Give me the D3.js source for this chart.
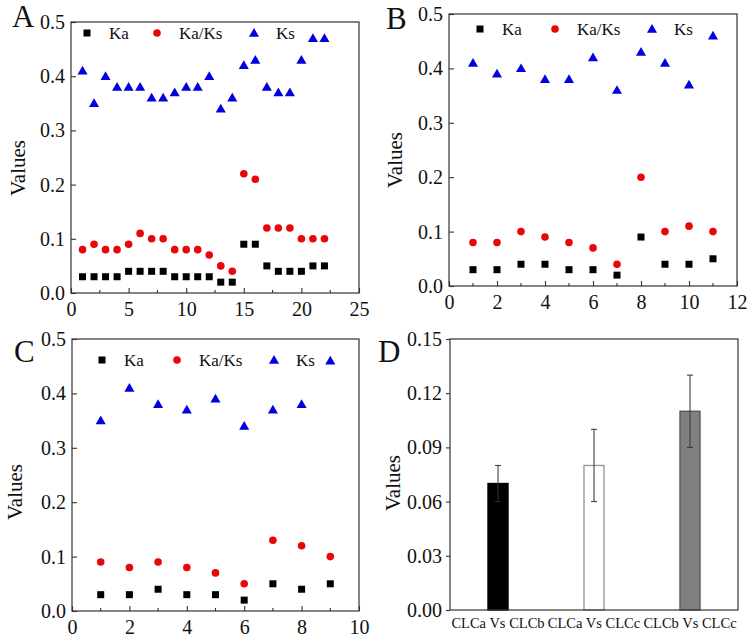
<!DOCTYPE html>
<html><head><meta charset="utf-8">
<script src="https://cdn.jsdelivr.net/npm/d3@7"></script>
<style>
html,body{margin:0;padding:0;background:#fff;}
svg{display:block;}
svg text{font-family:"Liberation Serif","Times New Roman","DejaVu Serif",serif !important;}
</style></head>
<body>
<svg id="chart" width="750" height="637"></svg>
<script>
// ---------- data ----------
const seriesNames = ["Ka", "Ka/Ks", "Ks"];

const kaA   = [0.03,0.03,0.03,0.03,0.04,0.04,0.04,0.04,0.03,0.03,0.03,0.03,0.02,0.02,0.09,0.09,0.05,0.04,0.04,0.04,0.05,0.05];
const kakaA = [0.08,0.09,0.08,0.08,0.09,0.11,0.10,0.10,0.08,0.08,0.08,0.07,0.05,0.04,0.22,0.21,0.12,0.12,0.12,0.10,0.10,0.10];
const ksA   = [0.41,0.35,0.40,0.38,0.38,0.38,0.36,0.36,0.37,0.38,0.38,0.40,0.34,0.36,0.42,0.43,0.38,0.37,0.37,0.43,0.47,0.47];

const kaB   = [0.03,0.03,0.04,0.04,0.03,0.03,0.02,0.09,0.04,0.04,0.05];
const kakaB = [0.08,0.08,0.10,0.09,0.08,0.07,0.04,0.20,0.10,0.11,0.10];
const ksB   = [0.41,0.39,0.40,0.38,0.38,0.42,0.36,0.43,0.41,0.37,0.46];

const kaC   = [0.03,0.03,0.04,0.03,0.03,0.02,0.05,0.04,0.05];
const kakaC = [0.09,0.08,0.09,0.08,0.07,0.05,0.13,0.12,0.10];
const ksC   = [0.35,0.41,0.38,0.37,0.39,0.34,0.37,0.38,0.46];

const yTicksABC = [0.0,0.1,0.2,0.3,0.4,0.5];
const xTicksA = [0,5,10,15,20,25];
const xTicksB = [0,2,4,6,8,10,12];
const xTicksC = [0,2,4,6,8,10];

const compCategories = ["CLCa Vs CLCb", "CLCa Vs CLCc", "CLCb Vs CLCc"];
const compValues = [0.07, 0.08, 0.11];
const compErrors = [0.01, 0.02, 0.02];
const yTicksD = [0.00,0.03,0.06,0.09,0.12,0.15];

// ---------- styles ----------
const svg = d3.select("#chart");
const FRAME = "#333";
const TICKFONT = 20;
const colors = {Ka:"#000000", "Ka/Ks":"#e8060a", Ks:"#0000e0"};
const barFill = ["#000000", "#ffffff", "#808080"];
const barStroke = ["#000000", "#9a9a9a", "#5a5a5a"];

function drawMarker(g, type, x, y) {
  if (type === "Ka") {
    g.append("rect").attr("x", x-3.5).attr("y", y-3.5).attr("width", 7).attr("height", 7).attr("fill", colors.Ka);
  } else if (type === "Ka/Ks") {
    g.append("circle").attr("cx", x).attr("cy", y).attr("r", 3.8).attr("fill", colors["Ka/Ks"]);
  } else {
    g.append("path").attr("d", d3.symbol().type(d3.symbolTriangle).size(44)())
      .attr("transform", `translate(${x},${y+0.8})`).attr("fill", colors.Ks);
  }
}

function scatterPanel(p) {
  const g = svg.append("g");
  const x = d3.scaleLinear().domain([0, p.xmax]).range([p.left, p.right]);
  const y = d3.scaleLinear().domain([0, 0.5]).range([p.bottom, p.top]);

  g.append("rect").attr("x", p.left).attr("y", p.top)
    .attr("width", p.right-p.left).attr("height", p.bottom-p.top)
    .attr("fill", "none").attr("stroke", FRAME).attr("stroke-width", 1.2);

  const ya = g.append("g").attr("transform", `translate(${p.left},0)`)
    .call(d3.axisLeft(y).tickValues(yTicksABC).tickFormat(d3.format(".1f")).tickSizeInner(-5).tickSizeOuter(0).tickPadding(6));
  ya.select(".domain").remove();
  ya.selectAll("line").attr("stroke", FRAME).attr("stroke-width", 1.1);
  ya.selectAll("text").attr("font-size", TICKFONT).attr("fill", "#111");

  const xa = g.append("g").attr("transform", `translate(0,${p.bottom})`)
    .call(d3.axisBottom(x).tickValues(p.xticks).tickFormat(d3.format("d")).tickSizeInner(-5).tickSizeOuter(0).tickPadding(9));
  xa.select(".domain").remove();
  xa.selectAll("line").attr("stroke", FRAME).attr("stroke-width", 1.1);
  xa.selectAll("text").attr("font-size", TICKFONT).attr("fill", "#111");
  const minor = [];
  for (let i = 0; i < p.xticks.length-1; i++) minor.push((p.xticks[i]+p.xticks[i+1])/2);
  g.append("g").selectAll("line").data(minor).join("line")
    .attr("x1", d => x(d)).attr("x2", d => x(d))
    .attr("y1", p.bottom).attr("y2", p.bottom-3)
    .attr("stroke", FRAME).attr("stroke-width", 1.1);

  const series = [["Ka", p.ka], ["Ka/Ks", p.kaka], ["Ks", p.ks]];
  series.forEach(([name, vals]) => {
    vals.forEach((v, i) => drawMarker(g, name, x(i+1), y(v)));
  });

  seriesNames.forEach((name, i) => {
    const lx = p.legX[i], ly = p.legY;
    drawMarker(g, name, lx, ly);
    g.append("text").attr("x", lx + 22).attr("y", ly + 6).text(name)
      .attr("font-size", 17).attr("fill", "#111");
  });

  g.append("text").attr("x", p.lab[0]).attr("y", p.lab[1]).text(p.id)
    .attr("font-size", 31).attr("fill", "#111");
  g.append("text").attr("transform", `translate(${p.yt[0]},${p.yt[1]}) rotate(-90)`)
    .attr("text-anchor", "middle").text("Values").attr("font-size", 21).attr("fill", "#111");
}

scatterPanel({id:"A", left:71, right:359, top:22, bottom:293, xmax:25, xticks:xTicksA,
  ka:kaA, kaka:kakaA, ks:ksA, legX:[87,157,254], legY:33, lab:[12,27], yt:[25,168]});
scatterPanel({id:"B", left:449, right:737, top:14, bottom:286, xmax:12, xticks:xTicksB,
  ka:kaB, kaka:kakaB, ks:ksB, legX:[480,555,652], legY:29, lab:[386,29], yt:[402,160]});
scatterPanel({id:"C", left:72, right:359, top:339, bottom:611, xmax:10, xticks:xTicksC,
  ka:kaC, kaka:kakaC, ks:ksC, legX:[102,177,274], legY:360, lab:[14,362], yt:[22,492]});

// ---------- panel D ----------
(function(){
  const p = {left:450, right:738, top:339, bottom:610};
  const g = svg.append("g");
  const x = d3.scalePoint().domain(compCategories).range([p.left, p.right]).padding(0.5);
  const y = d3.scaleLinear().domain([0, 0.15]).range([p.bottom, p.top]);
  const bw = 20;

  const ya = g.append("g").attr("transform", `translate(${p.left},0)`)
    .call(d3.axisLeft(y).tickValues(yTicksD).tickFormat(d3.format(".2f")).tickSizeInner(4).tickSizeOuter(0).tickPadding(4));
  ya.select(".domain").remove();
  ya.selectAll("line").attr("stroke", FRAME).attr("stroke-width", 1.1);
  ya.selectAll("text").attr("font-size", TICKFONT).attr("fill", "#111");

  compCategories.forEach((c, i) => {
    g.append("rect").attr("x", x(c)-bw/2).attr("y", y(compValues[i]))
      .attr("width", bw).attr("height", y(0)-y(compValues[i]))
      .attr("fill", barFill[i]).attr("stroke", barStroke[i]).attr("stroke-width", 1.4);
  });
  compCategories.forEach((c, i) => {
    const cx = x(c), hi = y(compValues[i]+compErrors[i]), lo = y(compValues[i]-compErrors[i]);
    const eg = g.append("g").attr("stroke", "#333").attr("stroke-width", 1);
    eg.append("line").attr("x1", cx).attr("x2", cx).attr("y1", hi).attr("y2", lo);
    eg.append("line").attr("x1", cx-3).attr("x2", cx+3).attr("y1", hi).attr("y2", hi);
    eg.append("line").attr("x1", cx-3).attr("x2", cx+3).attr("y1", lo).attr("y2", lo);
  });

  g.append("rect").attr("x", p.left).attr("y", p.top)
    .attr("width", p.right-p.left).attr("height", p.bottom-p.top)
    .attr("fill", "none").attr("stroke", FRAME).attr("stroke-width", 1.2);

  g.selectAll("text.cat").data(compCategories).join("text").attr("class", "cat")
    .attr("x", d => x(d)).attr("y", 628).attr("text-anchor", "middle")
    .attr("font-size", 14.5).attr("fill", "#111").text(d => d);

  g.append("text").attr("x", 378).attr("y", 362).text("D").attr("font-size", 31).attr("fill", "#111");
  g.append("text").attr("transform", `translate(400,483) rotate(-90)`)
    .attr("text-anchor", "middle").text("Values").attr("font-size", 21).attr("fill", "#111");
})();
</script>
</body></html>
